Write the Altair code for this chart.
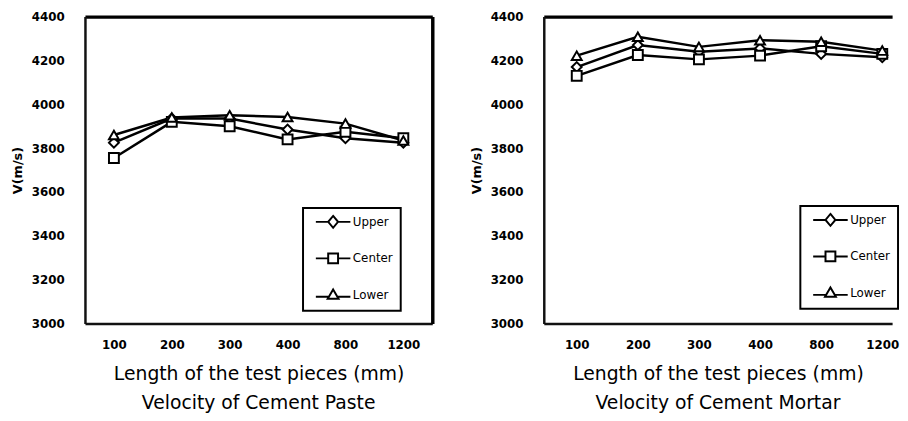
import altair as alt
import pandas as pd

lengths = ["100", "200", "300", "400", "800", "1200"]
series = ["Upper", "Center", "Lower"]

paste_upper = [3825, 3935, 3935, 3885, 3845, 3825]
paste_center = [3755, 3920, 3900, 3840, 3875, 3845]
paste_lower = [3860, 3940, 3950, 3942, 3912, 3835]

mortar_upper = [4170, 4270, 4240, 4255, 4230, 4215]
mortar_center = [4130, 4225, 4205, 4222, 4265, 4230]
mortar_lower = [4222, 4308, 4262, 4292, 4285, 4245]

y_ticks = [3000, 3200, 3400, 3600, 3800, 4000, 4200, 4400]

marker_shapes = ["diamond", "square", "triangle-up"]
legend_shapes = [
    "M-3.5,0H-1M1,0H3.5M0,-1.2L1,0L0,1.2L-1,0Z",
    "M-3.5,0H-1M1,0H3.5M-1,-1H1V1H-1Z",
    "M-3.5,0.4H-0.9M0.9,0.4H3.5M0,-1.1L1.1,0.8H-1.1Z",
]

FONT = "DejaVu Sans"


def long_df(upper, center, lower):
    rows = []
    for name, vals in zip(series, [upper, center, lower]):
        for l, v in zip(lengths, vals):
            rows.append({"length": l, "series": name, "v": v, "hide": 0})
    return pd.DataFrame(rows)


def panel(df, subtitle, width, height, xscale, legend_x, legend_y, right_border):
    base = alt.Chart(df)
    yscale = alt.Scale(domain=[3000, 4400], nice=False, zero=False)
    x_bottom = alt.X(
        "length:N", sort=lengths, scale=xscale,
        axis=alt.Axis(orient="bottom", title="Length of the test pieces (mm)", labelAngle=0,
                      ticks=False, grid=False, domainColor="#111", domainWidth=2.5,
                      labelFont=FONT, labelFontWeight="bold", labelFontSize=12, labelColor="black",
                      labelPadding=16, titleFont=FONT, titleFontSize=19, titleFontWeight="normal",
                      titleColor="black", titlePadding=15),
    )
    x_top = alt.X(
        "length:N", sort=lengths, scale=xscale,
        axis=alt.Axis(orient="top", title=None, labels=False, ticks=False, grid=False,
                      domainColor="black", domainWidth=3.5),
    )
    x_none = alt.X("length:N", sort=lengths, scale=xscale, axis=None)
    y_left = alt.Y(
        "v:Q", scale=yscale,
        axis=alt.Axis(orient="left", values=y_ticks, format="d", title="V(m/s)", ticks=False,
                      grid=False, domainColor="#111", domainWidth=2.5, labelFont=FONT,
                      labelFontWeight="bold", labelFontSize=12, labelColor="black",
                      labelPadding=21, titleFont=FONT, titleFontSize=13, titleFontWeight="bold",
                      titleColor="black", titlePadding=7),
    )
    if right_border:
        y_right = alt.Y("v:Q", scale=yscale,
                        axis=alt.Axis(orient="right", title=None, labels=False, ticks=False,
                                      grid=False, domainColor="black", domainWidth=3.5))
    else:
        y_right = alt.Y("v:Q", scale=yscale, axis=None)
    y_none = alt.Y("v:Q", scale=yscale, axis=None)

    legend_layer = base.mark_point(
        filled=True, fill="white", stroke="black", strokeWidth=2, size=100, opacity=1
    ).encode(
        x=x_none, y=y_none,
        shape=alt.Shape("series:N", sort=series,
                        scale=alt.Scale(domain=series, range=legend_shapes),
                        legend=alt.Legend(title=None, orient="none", legendX=legend_x,
                                          legendY=legend_y)),
        opacity=alt.Opacity("hide:Q", scale=alt.Scale(domain=[0, 1], range=[0, 0]), legend=None),
    )
    lines = base.mark_line(color="black", strokeWidth=2.5).encode(
        x=x_bottom, y=y_left, detail="series:N"
    )
    points = base.mark_point(
        filled=True, fill="white", stroke="black", strokeWidth=2, size=100, opacity=1
    ).encode(
        x=x_top, y=y_right,
        shape=alt.Shape("series:N", sort=series,
                        scale=alt.Scale(domain=series, range=marker_shapes), legend=None),
    )
    return (
        alt.layer(legend_layer, lines, points)
        .resolve_scale(shape="independent")
        .resolve_axis(x="independent", y="independent")
        .properties(
            width=width, height=height,
            title=alt.TitleParams(subtitle, orient="bottom", anchor="middle", font=FONT,
                                  fontSize=19, fontWeight="normal", color="black", offset=11),
        )
    )


paste = long_df(paste_upper, paste_center, paste_lower)
mortar = long_df(mortar_upper, mortar_center, mortar_lower)

left = panel(paste, "Velocity of Cement Paste", 352, 311,
             alt.Scale(padding=0.5), 221, 194, True)
right = panel(mortar, "Velocity of Cement Mortar", 353, 311,
              alt.Scale(padding=0.35, align=0.77), 260, 192, False)

chart = (
    alt.hconcat(left, right, spacing=38)
    .properties(padding={"left": 3, "top": 0, "right": 0, "bottom": 0}, background="white")
    .configure_view(stroke=None)
    .configure_legend(strokeColor="black", strokeWidth=2, fillColor="white", padding=8,
                      labelFont=FONT, labelFontSize=12, labelColor="black",
                      symbolStrokeWidth=2, symbolSize=100, rowPadding=18, labelOffset=14,
                      symbolOffset=16.5)
)

chart.save("out.html", embed_options={"renderer": "svg", "actions": False})
